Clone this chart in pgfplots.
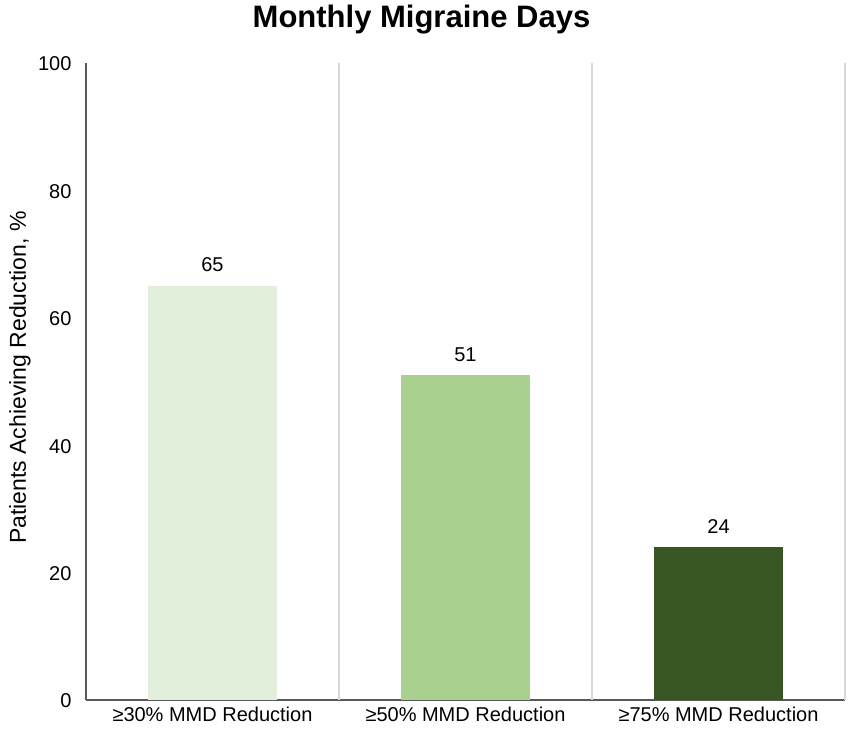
\documentclass[border=0pt]{standalone}
\usepackage{fontspec}
\setmainfont{Liberation Sans}
\usepackage{pgfplots}
\pgfplotsset{compat=1.18}
\definecolor{c1}{HTML}{E2EFDA}
\definecolor{c2}{HTML}{A9D08E}
\definecolor{c3}{HTML}{375623}
\definecolor{axgray}{HTML}{595959}
\definecolor{gridgray}{HTML}{D9D9D9}
\begin{document}
\begin{tikzpicture}
\begin{axis}[
  scale only axis, width=759bp, height=637bp,
  xmin=-0.5, xmax=2.5, ymin=0, ymax=100,
  axis lines*=left,
  axis line style={draw=axgray, line width=1.3bp},
  xtick={0,1,2},
  xticklabels={≥30\% MMD Reduction, ≥50\% MMD Reduction, ≥75\% MMD Reduction},
  ytick={0,20,...,100},
  major tick length=0pt,
  tick label style={font=\fontsize{20bp}{24bp}\selectfont, text=black},
  /pgf/number format/assume math mode=true,
  yticklabel style={xshift=-11bp, yshift=-1bp},
  xticklabel style={yshift=-3bp},
  ylabel={Patients Achieving Reduction, \%},
  ylabel style={at={(axis description cs:-0.0870,0.506)}, anchor=center, font=\fontsize{23bp}{27bp}\selectfont},
  title={Monthly Migraine Days},
  title style={at={(axis description cs:0.5,1)}, anchor=base, xshift=-44bp, yshift=30bp, font=\bfseries\fontsize{31bp}{36bp}\selectfont},
  extra x ticks={0.5,1.5,2.5},
  extra x tick labels={},
  extra x tick style={grid=major, major grid style={draw=gridgray, line width=1.3bp}},
  ybar, bar shift=0pt, bar width=0.506,
  nodes near coords,
  nodes near coords style={anchor=base, yshift=14bp, font=\fontsize{20bp}{24bp}\selectfont, text=black},
  clip=false,
]
\addplot[fill=c1, draw=none] coordinates {(0,65)};
\addplot[fill=c2, draw=none] coordinates {(1,51)};
\addplot[fill=c3, draw=none] coordinates {(2,24)};
\end{axis}
\pgfresetboundingbox
\path ([shift={(-86bp,-38bp)}]current axis.south west) rectangle ([shift={(6bp,63bp)}]current axis.north east);
\end{tikzpicture}
\end{document}
